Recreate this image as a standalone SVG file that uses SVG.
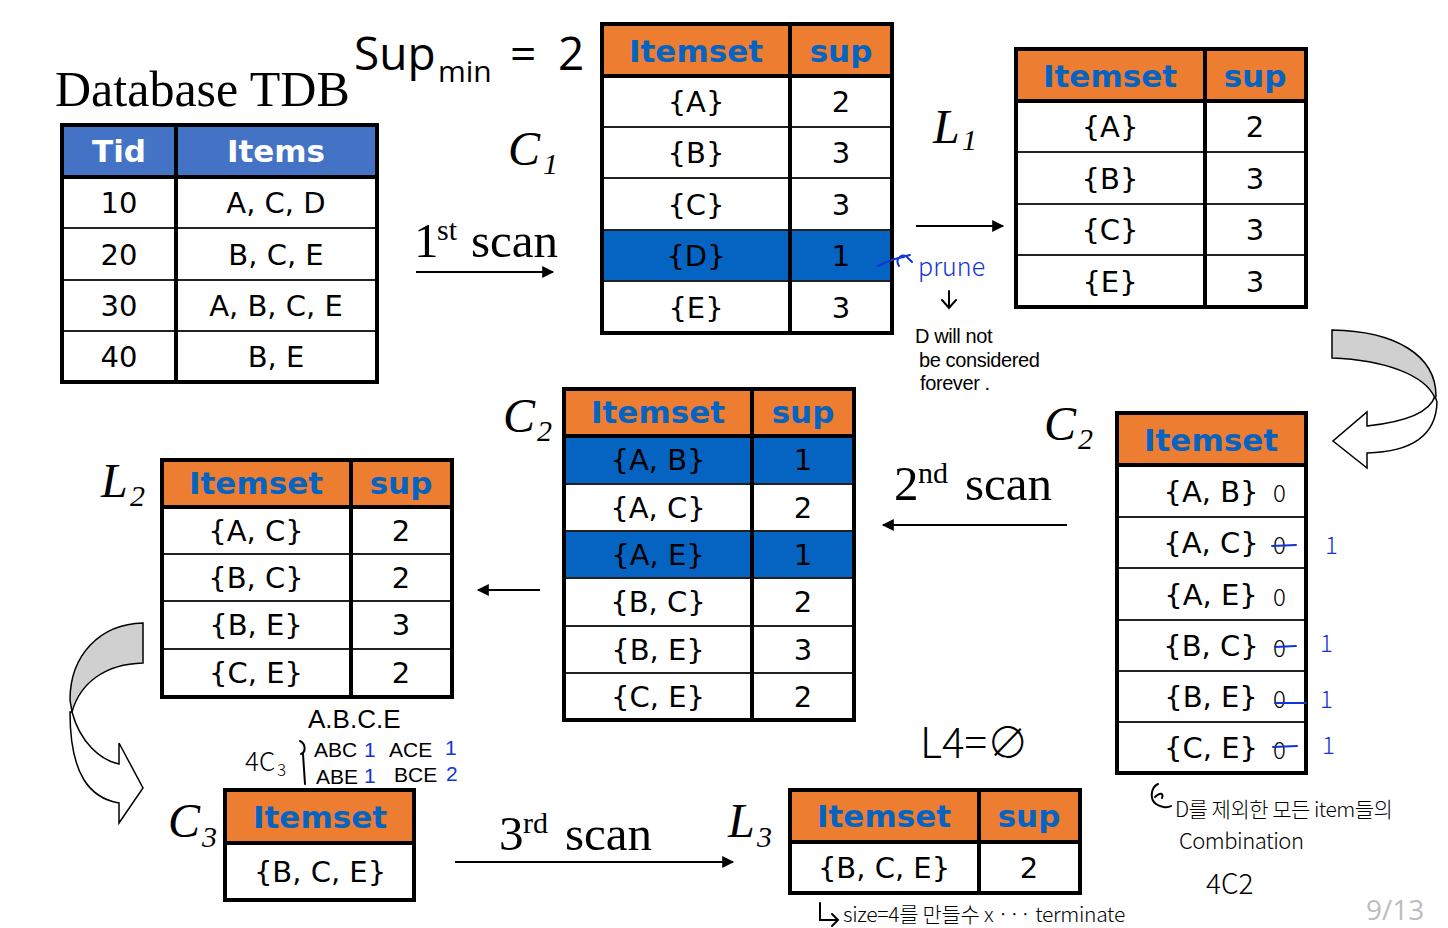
<svg xmlns="http://www.w3.org/2000/svg" width="1448" height="928" viewBox="0 0 1448 928">
  <defs>
    <marker id="ah" viewBox="0 0 10 10" refX="9" refY="5" markerWidth="7" markerHeight="6" orient="auto" markerUnits="strokeWidth">
      <path d="M0,0 L10,5 L0,10 Z" fill="#000"/>
    </marker>
  </defs>
  <style>
    .out { fill: none; stroke: #000; stroke-width: 4; }
    .ln { stroke: #222; stroke-width: 2; }
    .thick { stroke: #000; stroke-width: 4; }
    .hd { fill: #ED7D31; }
    .hl { fill: #0563C1; }
    .tdbhd { fill: #4472C4; }
    .ht { font-family: "DejaVu Sans", Verdana, sans-serif; font-weight: bold; font-size: 31px; fill: #0563C1; text-anchor: middle; }
    .htw { font-family: "DejaVu Sans", Verdana, sans-serif; font-weight: bold; font-size: 31px; fill: #fff; text-anchor: middle; }
    .bt { font-family: "DejaVu Sans", Verdana, sans-serif; font-size: 29px; fill: #000; text-anchor: middle; }
    .serif { font-family: "Liberation Serif", "Times New Roman", serif; fill: #000; }
    .it { font-family: "Liberation Serif", "Times New Roman", serif; font-style: italic; fill: #000; }
    .hw { font-family: "Noto Sans CJK KR", "Noto Sans", sans-serif; font-weight: 300; fill: #000; }
    .hwb { font-family: "Noto Sans CJK KR", "Noto Sans", sans-serif; font-weight: 300; fill: #1034D6; }
    .hwl { font-family: "Liberation Sans", Arial, sans-serif; fill: #000; }
    .blue { fill: #1034D6; }
    .conn { stroke: #000; stroke-width: 2; fill: none; marker-end: url(#ah); }
    .pen { stroke: #000; stroke-width: 2; fill: none; stroke-linecap: round; }
    .bpen { stroke: #1034D6; stroke-width: 2; fill: none; stroke-linecap: round; }
  </style>

  <!-- titles -->
  <text class="serif" x="55" y="106" font-size="50">Database TDB</text>
  <g id="supmin" font-family="'Open Sans', 'Liberation Sans', sans-serif" fill="#000">
    <text x="354" y="70" font-size="46">Sup</text>
    <text x="438" y="82" font-size="30">min</text>
    <text x="510" y="70" font-size="46">=</text>
    <text x="558" y="70" font-size="46">2</text>
  </g>

  <!-- Database TDB -->
  <g id="tdb">
    <rect x="62" y="125" width="315" height="257" fill="#fff"/>
    <rect class="tdbhd" x="62" y="125" width="315" height="52"/>
    <line class="ln" x1="62" y1="228" x2="377" y2="228"/>
    <line class="ln" x1="62" y1="280" x2="377" y2="280"/>
    <line class="ln" x1="62" y1="331" x2="377" y2="331"/>
    <line class="thick" x1="62" y1="177" x2="377" y2="177"/>
    <line class="thick" x1="176" y1="125" x2="176" y2="382"/>
    <rect class="out" x="62" y="125" width="315" height="257"/>
    <text class="htw" x="119" y="162">Tid</text>
    <text class="htw" x="276" y="162">Items</text>
    <text class="bt" x="119" y="213">10</text><text class="bt" x="276" y="213">A, C, D</text>
    <text class="bt" x="119" y="265">20</text><text class="bt" x="276" y="265">B, C, E</text>
    <text class="bt" x="119" y="316">30</text><text class="bt" x="276" y="316">A, B, C, E</text>
    <text class="bt" x="119" y="367">40</text><text class="bt" x="276" y="367">B, E</text>
  </g>

  <!-- C1 -->
  <g id="c1">
    <rect x="602" y="24" width="290" height="309" fill="#fff"/>
    <rect class="hd" x="602" y="24" width="290" height="52"/>
    <rect class="hl" x="602" y="230" width="290" height="51"/>
    <line class="ln" x1="602" y1="127" x2="892" y2="127"/>
    <line class="ln" x1="602" y1="178" x2="892" y2="178"/>
    <line class="ln" x1="602" y1="230" x2="892" y2="230"/>
    <line class="ln" x1="602" y1="281" x2="892" y2="281"/>
    <line class="thick" x1="602" y1="76" x2="892" y2="76"/>
    <line class="thick" x1="790" y1="24" x2="790" y2="333"/>
    <rect class="out" x="602" y="24" width="290" height="309"/>
    <text class="ht" x="696" y="62">Itemset</text><text class="ht" x="841" y="62">sup</text>
    <text class="bt" x="696" y="112">{A}</text><text class="bt" x="841" y="112">2</text>
    <text class="bt" x="696" y="163">{B}</text><text class="bt" x="841" y="163">3</text>
    <text class="bt" x="696" y="215">{C}</text><text class="bt" x="841" y="215">3</text>
    <text class="bt" x="696" y="266">{D}</text><text class="bt" x="841" y="266">1</text>
    <text class="bt" x="696" y="318">{E}</text><text class="bt" x="841" y="318">3</text>
  </g>

  <!-- L1 -->
  <g id="l1">
    <rect x="1016" y="49" width="290" height="258" fill="#fff"/>
    <rect class="hd" x="1016" y="49" width="290" height="52"/>
    <line class="ln" x1="1016" y1="152" x2="1306" y2="152"/>
    <line class="ln" x1="1016" y1="204" x2="1306" y2="204"/>
    <line class="ln" x1="1016" y1="255" x2="1306" y2="255"/>
    <line class="thick" x1="1016" y1="101" x2="1306" y2="101"/>
    <line class="thick" x1="1205" y1="49" x2="1205" y2="307"/>
    <rect class="out" x="1016" y="49" width="290" height="258"/>
    <text class="ht" x="1110" y="87">Itemset</text><text class="ht" x="1255" y="87">sup</text>
    <text class="bt" x="1110" y="137">{A}</text><text class="bt" x="1255" y="137">2</text>
    <text class="bt" x="1110" y="189">{B}</text><text class="bt" x="1255" y="189">3</text>
    <text class="bt" x="1110" y="240">{C}</text><text class="bt" x="1255" y="240">3</text>
    <text class="bt" x="1110" y="292">{E}</text><text class="bt" x="1255" y="292">3</text>
  </g>

  <!-- C2 with counts -->
  <g id="c2">
    <rect x="564" y="389" width="290" height="331" fill="#fff"/>
    <rect class="hd" x="564" y="389" width="290" height="47"/>
    <rect class="hl" x="564" y="436" width="290" height="48"/>
    <rect class="hl" x="564" y="531" width="290" height="47"/>
    <line class="ln" x1="564" y1="484" x2="854" y2="484"/>
    <line class="ln" x1="564" y1="531" x2="854" y2="531"/>
    <line class="ln" x1="564" y1="578" x2="854" y2="578"/>
    <line class="ln" x1="564" y1="626" x2="854" y2="626"/>
    <line class="ln" x1="564" y1="673" x2="854" y2="673"/>
    <line class="thick" x1="564" y1="436" x2="854" y2="436"/>
    <line class="thick" x1="752" y1="389" x2="752" y2="720"/>
    <rect class="out" x="564" y="389" width="290" height="331"/>
    <text class="ht" x="658" y="423">Itemset</text><text class="ht" x="803" y="423">sup</text>
    <text class="bt" x="658" y="470">{A, B}</text><text class="bt" x="803" y="470">1</text>
    <text class="bt" x="658" y="518">{A, C}</text><text class="bt" x="803" y="518">2</text>
    <text class="bt" x="658" y="565">{A, E}</text><text class="bt" x="803" y="565">1</text>
    <text class="bt" x="658" y="612">{B, C}</text><text class="bt" x="803" y="612">2</text>
    <text class="bt" x="658" y="660">{B, E}</text><text class="bt" x="803" y="660">3</text>
    <text class="bt" x="658" y="707">{C, E}</text><text class="bt" x="803" y="707">2</text>
  </g>

  <!-- L2 -->
  <g id="l2">
    <rect x="162" y="460" width="290" height="237" fill="#fff"/>
    <rect class="hd" x="162" y="460" width="290" height="47"/>
    <line class="ln" x1="162" y1="554" x2="452" y2="554"/>
    <line class="ln" x1="162" y1="601" x2="452" y2="601"/>
    <line class="ln" x1="162" y1="649" x2="452" y2="649"/>
    <line class="thick" x1="162" y1="507" x2="452" y2="507"/>
    <line class="thick" x1="351" y1="460" x2="351" y2="697"/>
    <rect class="out" x="162" y="460" width="290" height="237"/>
    <text class="ht" x="256" y="494">Itemset</text><text class="ht" x="401" y="494">sup</text>
    <text class="bt" x="256" y="541">{A, C}</text><text class="bt" x="401" y="541">2</text>
    <text class="bt" x="256" y="588">{B, C}</text><text class="bt" x="401" y="588">2</text>
    <text class="bt" x="256" y="635">{B, E}</text><text class="bt" x="401" y="635">3</text>
    <text class="bt" x="256" y="683">{C, E}</text><text class="bt" x="401" y="683">2</text>
  </g>

  <!-- C2 candidates -->
  <g id="c2cand">
    <rect x="1117" y="413" width="189" height="360" fill="#fff"/>
    <rect class="hd" x="1117" y="413" width="189" height="52"/>
    <line class="ln" x1="1117" y1="517" x2="1306" y2="517"/>
    <line class="ln" x1="1117" y1="568" x2="1306" y2="568"/>
    <line class="ln" x1="1117" y1="620" x2="1306" y2="620"/>
    <line class="ln" x1="1117" y1="671" x2="1306" y2="671"/>
    <line class="ln" x1="1117" y1="722" x2="1306" y2="722"/>
    <line class="thick" x1="1117" y1="465" x2="1306" y2="465"/>
    <rect class="out" x="1117" y="413" width="189" height="360"/>
    <text class="ht" x="1211" y="451">Itemset</text>
    <text class="bt" x="1211" y="502">{A, B}</text>
    <text class="bt" x="1211" y="553">{A, C}</text>
    <text class="bt" x="1211" y="605">{A, E}</text>
    <text class="bt" x="1211" y="656">{B, C}</text>
    <text class="bt" x="1211" y="707">{B, E}</text>
    <text class="bt" x="1211" y="758">{C, E}</text>
  </g>

  <!-- C3 -->
  <g id="c3">
    <rect x="225" y="790" width="189" height="110" fill="#fff"/>
    <rect class="hd" x="225" y="790" width="189" height="53"/>
    <line class="thick" x1="225" y1="843" x2="414" y2="843"/>
    <rect class="out" x="225" y="790" width="189" height="110"/>
    <text class="ht" x="320" y="828">Itemset</text>
    <text class="bt" x="320" y="882">{B, C, E}</text>
  </g>

  <!-- L3 -->
  <g id="l3">
    <rect x="790" y="790" width="290" height="103" fill="#fff"/>
    <rect class="hd" x="790" y="790" width="290" height="52"/>
    <line class="thick" x1="790" y1="842" x2="1080" y2="842"/>
    <line class="thick" x1="979" y1="790" x2="979" y2="893"/>
    <rect class="out" x="790" y="790" width="290" height="103"/>
    <text class="ht" x="884" y="827">Itemset</text><text class="ht" x="1029" y="827">sup</text>
    <text class="bt" x="884" y="878">{B, C, E}</text><text class="bt" x="1029" y="878">2</text>
  </g>

  <!-- set labels -->
  <g id="labels">
    <text class="it" x="508" y="165" font-size="48">C</text><text class="it" x="543" y="174" font-size="30">1</text>
    <text class="it" x="933" y="143" font-size="48">L</text><text class="it" x="962" y="150" font-size="30">1</text>
    <text class="it" x="503" y="432" font-size="48">C</text><text class="it" x="537" y="441" font-size="30">2</text>
    <text class="it" x="1044" y="440" font-size="48">C</text><text class="it" x="1078" y="449" font-size="30">2</text>
    <text class="it" x="101" y="497" font-size="48">L</text><text class="it" x="130" y="506" font-size="30">2</text>
    <text class="it" x="168" y="837" font-size="48">C</text><text class="it" x="202" y="847" font-size="30">3</text>
    <text class="it" x="728" y="837" font-size="48">L</text><text class="it" x="757" y="847" font-size="30">3</text>
  </g>

  <!-- scan labels -->
  <g id="scans" class="serif">
    <text x="414" y="257" font-size="49">1</text><text x="437" y="240" font-size="30">st</text><text x="471" y="257" font-size="49">scan</text>
    <text x="894" y="500" font-size="49">2</text><text x="918" y="483" font-size="30">nd</text><text x="965" y="500" font-size="49">scan</text>
    <text x="499" y="850" font-size="49">3</text><text x="523" y="833" font-size="30">rd</text><text x="565" y="850" font-size="49">scan</text>
  </g>

  <!-- connectors -->
  <g id="connectors">
    <line class="conn" x1="416" y1="272" x2="553" y2="272"/>
    <line class="conn" x1="916" y1="226" x2="1003" y2="226"/>
    <line class="conn" x1="1067" y1="525" x2="883" y2="525"/>
    <line class="conn" x1="540" y1="590" x2="478" y2="590"/>
    <line class="conn" x1="455" y1="862" x2="733" y2="862"/>
    <!-- curved block arrow L1 -> C2 -->
    <path d="M1367,426 C1405,422 1430,412 1435,396 L1437,402 C1436,440 1405,452 1367,453 L1367,468 L1333,441 L1367,412 Z" fill="#fff" stroke="#000" stroke-width="1.5"/>
    <path d="M1332,330 C1395,331 1436,355 1436,396 L1435,398 C1425,375 1385,360 1332,358 Z" fill="#D0D0D0" stroke="#000" stroke-width="1.5"/>
    <!-- curved block arrow L2 -> C3 -->
    <path d="M72,712 C80,742 100,760 119,764 L119,743 L143,788 L119,823 L119,803 C90,798 70,775 70,712 Z" fill="#fff" stroke="#000" stroke-width="1.5"/>
    <path d="M143,623 C100,624 70,655 70,700 L72,712 C80,683 105,664 143,663 Z" fill="#D0D0D0" stroke="#000" stroke-width="1.5"/>
  </g>

  <!-- pen notes -->
  <g id="notes">
    <path class="bpen" d="M878,266 C886,262 895,258 904,257"/>
    <path class="bpen" d="M899,266 C895,260 900,254 906,256 L912,262 M906,256 L910,255"/>
    <text class="hwb" x="918" y="276" font-size="25">prune</text>
    <path class="pen" d="M949,291 L949,307 M942,300 L949,308 L956,300"/>
    <text class="hwl" font-size="20" letter-spacing="-0.4">
      <tspan x="915" y="343">D will not</tspan>
      <tspan x="919" y="367">be considered</tspan>
      <tspan x="920" y="390">forever .</tspan>
    </text>

    <text class="hw" x="1273" y="502" font-size="24">0</text>
    <text class="hw" x="1273" y="554" font-size="24">0</text>
    <text class="hw" x="1273" y="606" font-size="24">0</text>
    <text class="hw" x="1273" y="657" font-size="24">0</text>
    <text class="hw" x="1273" y="708" font-size="24">0</text>
    <text class="hw" x="1273" y="759" font-size="24">0</text>
    <path class="bpen" d="M1272,546 L1296,545 M1275,647 L1296,646 M1275,703 L1306,703 M1273,747 L1297,746"/>
    <text class="hwb" x="1325" y="554" font-size="24">1</text>
    <text class="hwb" x="1320" y="652" font-size="24">1</text>
    <text class="hwb" x="1320" y="708" font-size="24">1</text>
    <text class="hwb" x="1322" y="754" font-size="24">1</text>

    <text class="hw" x="245" y="771" font-size="26">4C</text>
    <text class="hw" x="277" y="776" font-size="17">3</text>
    <path class="pen" d="M300,741 C306,744 306,752 301,754 M303,754 L305,784"/>
    <text class="hwl" font-size="21">
      <tspan x="308" y="728" font-size="26">A.B.C.E</tspan>
      <tspan x="314" y="757">ABC</tspan>
      <tspan class="blue" x="364" y="757">1</tspan>
      <tspan x="389" y="757">ACE</tspan>
      <tspan class="blue" x="445" y="755">1</tspan>
      <tspan x="316" y="784">ABE</tspan>
      <tspan class="blue" x="364" y="783">1</tspan>
      <tspan x="394" y="782">BCE</tspan>
      <tspan class="blue" x="446" y="781">2</tspan>
    </text>

    <text class="hw" x="920" y="758" font-size="42">L4=∅</text>

    <path class="pen" d="M1158,784 C1150,788 1150,800 1156,804 C1162,808 1168,808 1171,806 M1155,797 C1160,792 1164,793 1162,798"/>
    <text class="hw" x="1175" y="817" font-size="21" letter-spacing="-0.5">D를 제외한 모든 item들의</text>
    <text class="hw" x="1179" y="849" font-size="22" letter-spacing="-0.5">Combination</text>
    <text class="hw" x="1206" y="894" font-size="28">4C2</text>

    <path class="pen" d="M820,903 L820,920 L838,920 M832,914 L838,920 L832,926"/>
    <text class="hw" x="843" y="922" font-size="21" letter-spacing="-0.3">size=4를 만들수 x ··· terminate</text>
  </g>

  <text x="1366" y="920" font-family="'Open Sans', 'Liberation Sans', sans-serif" font-size="28" fill="#BDBDBD">9/13</text>
</svg>
